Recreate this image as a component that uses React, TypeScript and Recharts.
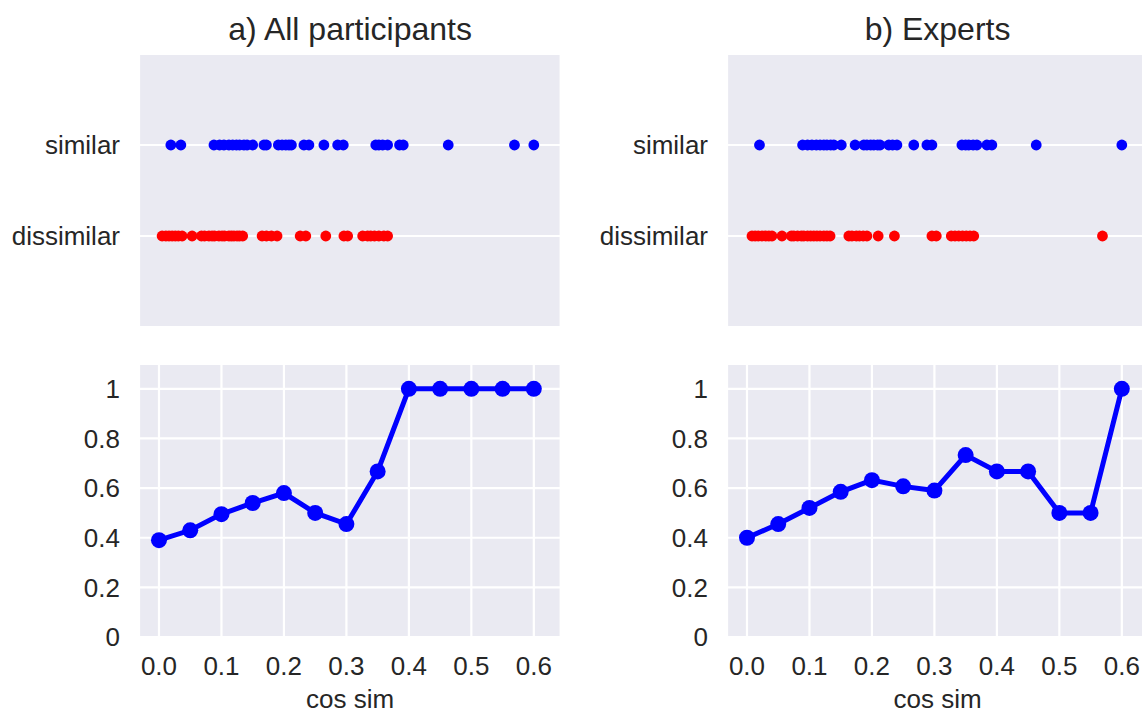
import React from "react"
import {
  CartesianGrid,
  Line,
  LineChart,
  Scatter,
  ScatterChart,
  XAxis,
  YAxis,
} from "recharts"

// strip plot: cos sim of each pair, split by rating
const allSimilar = [
  0.019, 0.035, 0.088, 0.097, 0.104, 0.112, 0.118, 0.124, 0.129, 0.136, 0.141, 0.15, 0.168, 0.172,
  0.191, 0.197, 0.203, 0.208, 0.212, 0.232, 0.24, 0.264, 0.286, 0.295, 0.347, 0.352, 0.358, 0.366,
  0.385, 0.391, 0.463, 0.569, 0.6,
]
const allDissimilar = [
  0.005, 0.011, 0.016, 0.021, 0.026, 0.031, 0.037, 0.053, 0.068, 0.073, 0.08, 0.085, 0.089, 0.096,
  0.101, 0.105, 0.112, 0.116, 0.12, 0.125, 0.129, 0.134, 0.165, 0.172, 0.18, 0.189, 0.226, 0.235,
  0.267, 0.296, 0.302, 0.326, 0.334, 0.339, 0.345, 0.352, 0.36, 0.366,
]
const expSimilar = [
  0.02, 0.089, 0.097, 0.104, 0.111, 0.117, 0.123, 0.128, 0.134, 0.139, 0.151, 0.173, 0.187, 0.192,
  0.198, 0.203, 0.209, 0.213, 0.227, 0.233, 0.24, 0.267, 0.288, 0.296, 0.344, 0.35, 0.355, 0.362,
  0.368, 0.384, 0.392, 0.463, 0.6,
]
const expDissimilar = [
  0.008, 0.013, 0.018, 0.024, 0.03, 0.035, 0.04, 0.056, 0.071, 0.075, 0.081, 0.087, 0.091, 0.097,
  0.102, 0.107, 0.112, 0.117, 0.123, 0.128, 0.133, 0.163, 0.168, 0.175, 0.18, 0.186, 0.192, 0.21,
  0.236, 0.296, 0.303, 0.327, 0.333, 0.339, 0.345, 0.351, 0.357, 0.363, 0.569,
]

// share rated "similar" per cos sim bin
const bins = [0, 0.05, 0.1, 0.15, 0.2, 0.25, 0.3, 0.35, 0.4, 0.45, 0.5, 0.55, 0.6]
const allProb = [0.39, 0.43, 0.495, 0.54, 0.58, 0.5, 0.455, 0.667, 1, 1, 1, 1, 1]
const expProb = [0.4, 0.455, 0.52, 0.585, 0.632, 0.607, 0.59, 0.733, 0.667, 0.667, 0.5, 0.5, 1]

const xTicks = [0, 0.1, 0.2, 0.3, 0.4, 0.5, 0.6]
const probTicks = [0, 0.2, 0.4, 0.6, 0.8, 1]
const titles = ["a) All participants", "b) Experts"]

const BG = "#EAEAF2"
const INK = "#262626"
const FONT = '"Liberation Sans", Arial, sans-serif'
const X_DOMAIN: [number, number] = [-0.032, 0.643]

const PLOT_W = 421.7
const PLOT_H = 273
const TOP_Y = 54
const BOTTOM_Y = 364
const PANEL_X = [139.3, 726.7]
const Y_AXIS_W = 134

const tickStyle = { fill: INK, fontSize: 26, fontFamily: FONT }

function Dot({ cx, cy, fill }: any) {
  return <circle cx={cx} cy={cy} r={5.4} fill={fill} />
}

function StripPanel({ left, similar, dissimilar }: { left: number; similar: number[]; dissimilar: number[] }) {
  const sim = similar.map((x) => ({ x, y: 1 }))
  const dis = dissimilar.map((x) => ({ x, y: 0 }))
  return (
    <div style={{ position: "absolute", left: left - Y_AXIS_W, top: TOP_Y - 5 }}>
      <ScatterChart
        width={Y_AXIS_W + PLOT_W + 5}
        height={5 + PLOT_H + 1}
        margin={{ top: 5, right: 5, left: 0, bottom: 0 }}
      >
        <CartesianGrid fill={BG} fillOpacity={1} stroke="#fff" strokeWidth={2.2} />
        <XAxis
          type="number"
          dataKey="x"
          domain={X_DOMAIN}
          ticks={xTicks}
          allowDataOverflow
          height={1}
          tick={false}
          axisLine={false}
          tickLine={false}
        />
        <YAxis
          type="number"
          dataKey="y"
          domain={[-1, 2]}
          ticks={[0, 1]}
          width={Y_AXIS_W}
          axisLine={false}
          tickLine={false}
          tickSize={0}
          tickMargin={19}
          tick={tickStyle}
          tickFormatter={(v: number) => (v === 1 ? "similar" : v === 0 ? "dissimilar" : "")}
        />
        <Scatter data={sim} fill="#0000FF" shape={Dot} isAnimationActive={false} />
        <Scatter data={dis} fill="#FF0000" shape={Dot} isAnimationActive={false} />
      </ScatterChart>
    </div>
  )
}

function ProbPanel({ left, prob }: { left: number; prob: number[] }) {
  const data = bins.map((x, i) => ({ x, p: prob[i] }))
  return (
    <div style={{ position: "absolute", left: left - Y_AXIS_W, top: BOTTOM_Y - 5 }}>
      <LineChart
        width={Y_AXIS_W + PLOT_W + 5}
        height={5 + PLOT_H + 60}
        data={data}
        margin={{ top: 5, right: 5, left: 0, bottom: 0 }}
      >
        <CartesianGrid fill={BG} fillOpacity={1} stroke="#fff" strokeWidth={2.2} />
        <XAxis
          type="number"
          dataKey="x"
          domain={X_DOMAIN}
          ticks={xTicks}
          allowDataOverflow
          height={60}
          axisLine={false}
          tickLine={false}
          tickSize={0}
          tickMargin={20}
          tick={tickStyle}
          tickFormatter={(v: number) => v.toFixed(1)}
        />
        <YAxis
          type="number"
          domain={[0, 1.1]}
          ticks={probTicks}
          width={Y_AXIS_W}
          axisLine={false}
          tickLine={false}
          tickSize={0}
          tickMargin={19}
          tick={tickStyle}
          tickFormatter={(v: number) => (v === 0 || v === 1 ? String(v) : v.toFixed(1))}
        />
        <Line
          dataKey="p"
          stroke="#0000FF"
          strokeWidth={5}
          dot={{ r: 8, fill: "#0000FF", stroke: "none" }}
          isAnimationActive={false}
        />
      </LineChart>
    </div>
  )
}

export default function App() {
  return (
    <div
      style={{
        position: "absolute",
        left: 0,
        top: 0,
        width: 1142,
        height: 713,
        overflow: "hidden",
        background: "#fff",
      }}
    >
      <StripPanel left={PANEL_X[0]} similar={allSimilar} dissimilar={allDissimilar} />
      <StripPanel left={PANEL_X[1]} similar={expSimilar} dissimilar={expDissimilar} />
      <ProbPanel left={PANEL_X[0]} prob={allProb} />
      <ProbPanel left={PANEL_X[1]} prob={expProb} />
      <svg
        width={1142}
        height={713}
        style={{ position: "absolute", left: 0, top: 0, pointerEvents: "none" }}
      >
        {PANEL_X.map((x, i) => (
          <g key={i} fontFamily={FONT} fill={INK} textAnchor="middle">
            <text x={x + PLOT_W / 2} y={40} fontSize={32}>
              {titles[i]}
            </text>
            <text x={x + PLOT_W / 2} y={708} fontSize={26}>
              cos sim
            </text>
          </g>
        ))}
      </svg>
    </div>
  )
}
